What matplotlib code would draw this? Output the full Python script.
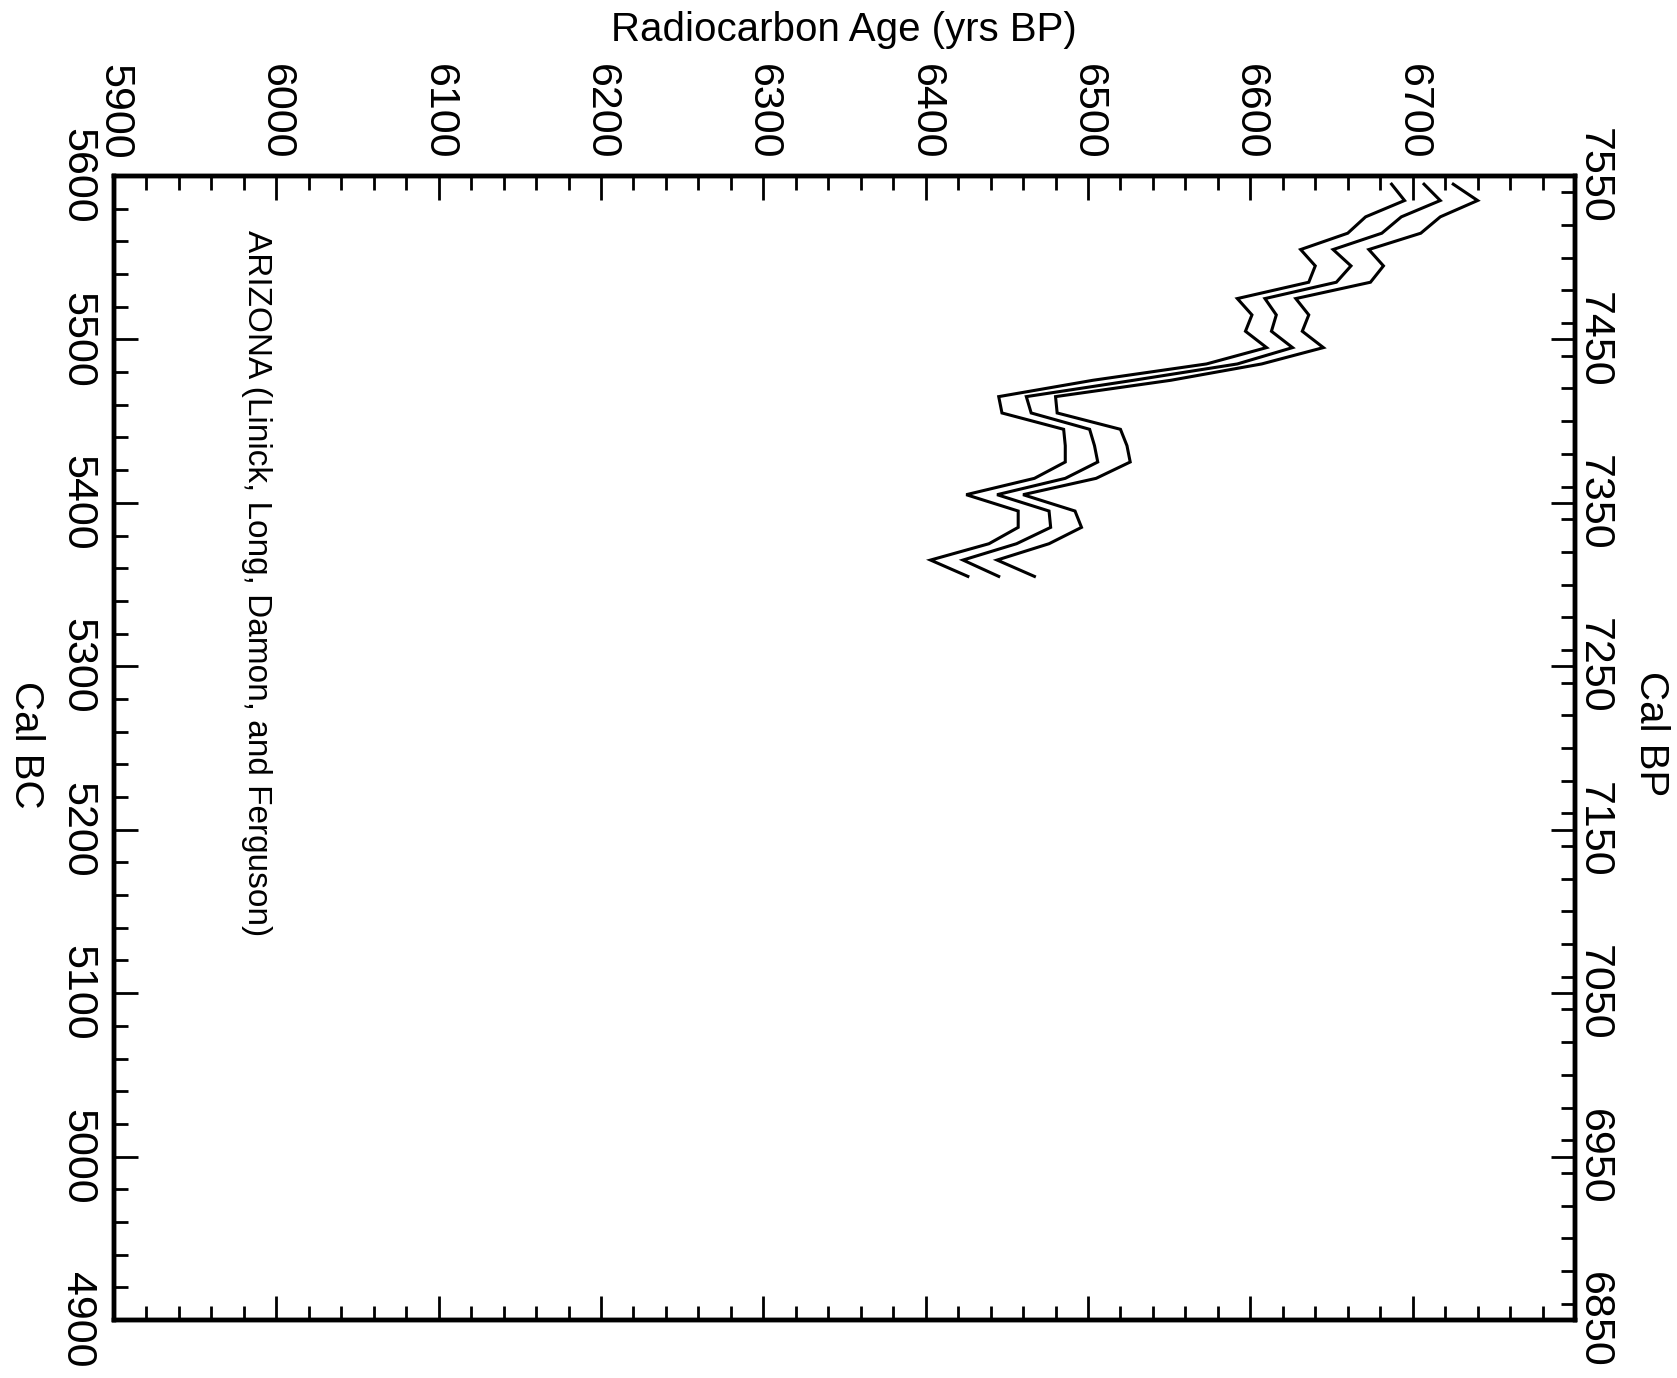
import matplotlib
matplotlib.use("Agg")
import matplotlib.pyplot as plt
from matplotlib.ticker import MultipleLocator, FixedLocator

# ---- data ----
cal_bc = [5595, 5585, 5575, 5565, 5555, 5545, 5535, 5525, 5515, 5505,
          5495, 5485, 5475, 5465, 5455, 5445, 5435, 5425, 5415, 5405,
          5395, 5385, 5375, 5365, 5355]
age_lower = [6687, 6695, 6671, 6660, 6631, 6640, 6636, 6592, 6601, 6597,
             6610, 6573, 6503, 6445, 6447, 6485, 6486, 6486, 6467, 6425,
             6457, 6457, 6439, 6403, 6426]
age_mid = [6707, 6717, 6693, 6681, 6651, 6662, 6653, 6609, 6616, 6613,
           6626, 6592, 6528, 6462, 6465, 6501, 6504, 6506, 6486, 6444,
           6476, 6477, 6456, 6423, 6445]
age_upper = [6725, 6740, 6717, 6705, 6673, 6682, 6674, 6628, 6636, 6632,
             6645, 6607, 6551, 6480, 6481, 6520, 6524, 6526, 6505, 6460,
             6492, 6496, 6476, 6444, 6467]

age_ticks = [5900, 6000, 6100, 6200, 6300, 6400, 6500, 6600, 6700]
calbc_ticks = [4900, 5000, 5100, 5200, 5300, 5400, 5500, 5600]
calbp_ticks = [6850, 6950, 7050, 7150, 7250, 7350, 7450, 7550]

title_top = "Radiocarbon Age (yrs BP)"
label_left = "Cal BC"
label_right = "Cal BP"
annotation = "ARIZONA (Linick, Long, Damon, and Ferguson)"

plt.rcParams["font.family"] = ["Liberation Sans", "DejaVu Sans"]

W, H = 1677, 1378
fig = plt.figure(figsize=(W / 100, H / 100), dpi=100)
L, R, T, B = 114, 1575, 176, 1320
ax = fig.add_axes([L / W, 1 - B / H, (R - L) / W, (B - T) / H])

for ys in (age_lower, age_mid, age_upper):
    ax.plot(ys, cal_bc, color="black", lw=2.2, solid_joinstyle="miter")

ax.set_xlim(5900, 6800)
ax.set_ylim(4900, 5600)

TICK_FS = 31

ax.xaxis.set_major_locator(FixedLocator(age_ticks + [6800]))
ax.set_xticklabels([str(t) for t in age_ticks] + [""])
ax.xaxis.set_minor_locator(MultipleLocator(20))
ax.yaxis.set_major_locator(FixedLocator(calbc_ticks))
ax.set_yticklabels([str(t) for t in calbc_ticks])
ax.yaxis.set_minor_locator(MultipleLocator(20))

ax.tick_params(axis="x", which="both", direction="in", top=True, bottom=True,
               labeltop=True, labelbottom=False)
ax.tick_params(axis="y", which="both", direction="in", left=True, right=False,
               labelleft=True, labelright=False)
ax.tick_params(which="major", length=17, width=2.0)
ax.tick_params(which="minor", length=10, width=2.0)
ax.tick_params(axis="x", labelsize=TICK_FS, labelrotation=-90, pad=12)
ax.tick_params(axis="y", labelsize=TICK_FS, labelrotation=-90, pad=12)
for lbl in ax.get_xticklabels():
    lbl.set_ha("center")
    lbl.set_va("bottom")
for lbl in ax.get_yticklabels():
    lbl.set_ha("right")
    lbl.set_va("center")

for s in ax.spines.values():
    s.set_linewidth(3.2)

ax2 = ax.twinx()
ax2.set_ylim(6850, 7550)
ax2.yaxis.set_major_locator(FixedLocator(calbp_ticks))
ax2.set_yticklabels([str(t) for t in calbp_ticks])
ax2.yaxis.set_minor_locator(MultipleLocator(20))
ax2.tick_params(axis="y", which="both", direction="in", right=True,
                labelright=True)
ax2.tick_params(which="major", length=17, width=2.0)
ax2.tick_params(which="minor", length=10, width=2.0)
ax2.tick_params(axis="y", labelsize=TICK_FS, labelrotation=-90, pad=-1)
for lbl in ax2.get_yticklabels():
    lbl.set_ha("left")
    lbl.set_va("center")
for s in ax2.spines.values():
    s.set_linewidth(3.2)

fig.text(0.5035, 1 - 30 / H, title_top, fontsize=29, ha="center", va="center")
fig.text(26 / W, 1 - 745 / H, label_left, fontsize=29, rotation=-90,
         ha="center", va="center")
fig.text(1651 / W, 1 - 734 / H, label_right, fontsize=29, rotation=-90,
         ha="center", va="center")

ax.text(5988, 5567, annotation, fontsize=24, rotation=-90, ha="center",
        va="top")

fig.savefig("out.png", dpi=100)
